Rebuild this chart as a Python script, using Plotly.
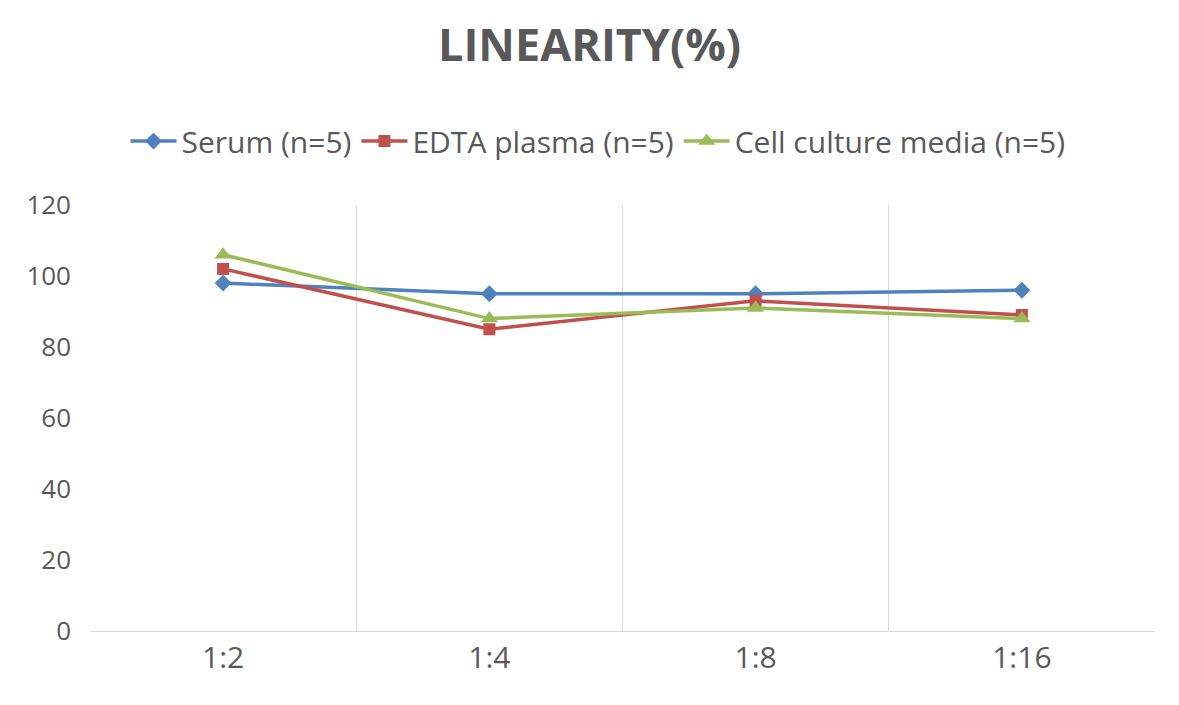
import plotly.graph_objects as go

# dilution ratios on the x axis
dilutions = ["1:2", "1:4", "1:8", "1:16"]

# linearity (%) per sample type
serum = [98, 95, 95, 96]
edta_plasma = [102, 85, 93, 89]
cell_culture = [106, 88, 91, 88]

y_ticks = [0, 20, 40, 60, 80, 100, 120]

series = [
    ("Serum (n=5)", serum, "#4F81BD", "diamond", 13),
    ("EDTA plasma (n=5)", edta_plasma, "#C0504D", "square", 12),
    ("Cell culture media (n=5)", cell_culture, "#9BBB59", "triangle-up", 15),
]

fig = go.Figure()
for name, vals, col, sym, sz in series:
    fig.add_trace(go.Scatter(
        x=dilutions, y=vals, name=name, mode="lines+markers",
        line=dict(color=col, width=3.5),
        marker=dict(color=col, symbol=sym, size=sz),
    ))

# page body adds 8px around the figure, so size/margins are trimmed by that
fig.update_layout(
    width=1163, height=689,
    paper_bgcolor="white", plot_bgcolor="white",
    margin=dict(l=82, r=16, t=197, b=66),
    font=dict(family="Open Sans", color="#595959"),
    title=dict(text="<b>LINEARITY(%)</b>", x=0.5, xanchor="center",
               y=0.946, yanchor="middle",
               font=dict(size=45, color="#595959")),
    legend=dict(orientation="h", x=0.477, xanchor="center", y=1.15, yanchor="middle",
                font=dict(size=30, color="#595959"), itemwidth=46,
                traceorder="normal"),
    showlegend=True,
)

fig.update_xaxes(
    type="category", range=[-0.5, 3.5], tickson="boundaries",
    showgrid=True, gridcolor="#D9D9D9", gridwidth=1,
    showline=True, linecolor="#D9D9D9", linewidth=1,
    ticks="", tickfont=dict(size=30, color="#595959"),
    zeroline=False,
)
fig.update_yaxes(
    range=[0, 120], tickvals=y_ticks, showgrid=False,
    showline=False, ticks="", zeroline=False,
    tickfont=dict(size=26, color="#595959"), ticklabelstandoff=18,
)

fig.write_html("out.html")
